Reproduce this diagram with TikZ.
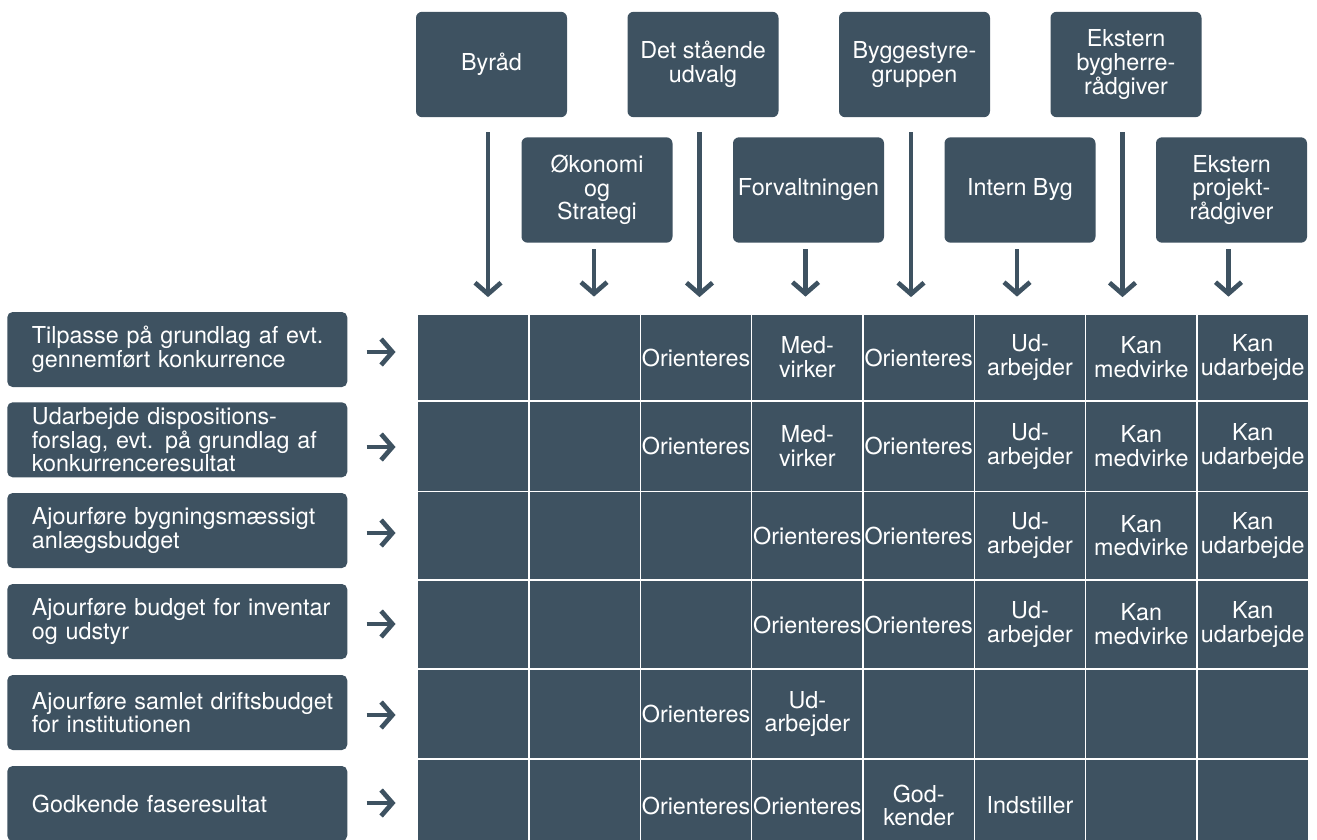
\documentclass[tikz,border=0pt]{standalone}
\usepackage{fontspec}
\setmainfont{TeX Gyre Heros}
\usetikzlibrary{arrows.meta}
\definecolor{slate}{RGB}{62,82,97}
\newcommand\boxfont{\fontsize{17.5}{17.8}\selectfont}
% one row of the responsibility grid: #1 row no., #2 top, #3 bottom (px), #4 cell texts
\newcommand\gridrow[4]{%
  \foreach \t [count=\c] in {#4} {
    \node[cell, minimum height={(#3-#2)*0.75pt}] (c#1-\c)
      at ({417.7+111.33*(\c-0.5)}, {(#2+#3)/2}) {\t};
  }%
}
\tikzset{
  topbox/.style={fill=slate, rounded corners=4.5pt, text=white, align=center,
    inner sep=0pt, minimum width=113.25pt, minimum height=79pt, font=\boxfont},
  taskbox/.style={fill=slate, rounded corners=4pt, text=white, align=left,
    inner xsep=18.5pt, inner ysep=0pt, text width=218pt, minimum height=56.25pt,
    anchor=west, font=\boxfont},
  cell/.style={fill=slate, draw=white, line width=1.1pt, text=white, align=center,
    inner sep=0pt, minimum width=83.5pt, font=\boxfont},
  flow/.style={draw=slate, line width=3.5pt,
    -{Straight Barb[length=8.5pt,width=19.5pt,line cap=butt,line join=miter]}},
}
\begin{document}
\begin{tikzpicture}[x=0.75pt, y=-0.75pt]
\useasboundingbox (0,0) rectangle (1317,839);
\begin{scope}
\clip (0,0) rectangle (1317,839);

% actors, upper row
\node[topbox] (byraad)  at (491.5,64.5) {Byråd};
\node[topbox] (udvalg)  at (703,64.5)   {Det stående\\udvalg};
\node[topbox] (bstyre)  at (914.5,64.5) {Byggestyre-\\gruppen};
\node[topbox] (ebyg)    at (1126,64.5)  {Ekstern\\bygherre-\\rådgiver};
% actors, lower row
\node[topbox] (oekon)   at (597,190)    {Økonomi\\og\\Strategi};
\node[topbox] (forv)    at (808.5,190)  {Forvaltningen};
\node[topbox] (intern)  at (1020,190)   {Intern Byg};
\node[topbox] (eproj)   at (1231.5,190) {Ekstern\\projekt-\\rådgiver};

% arrows from the actors down to the grid
\foreach \n in {byraad,udvalg,bstyre,ebyg}
  \draw[flow] ([shift={(-3.5,14.7)}]\n.south) -- ++(0,165);
\foreach \n in {oekon,forv,intern,eproj}
  \draw[flow] ([shift={(-3,6.3)}]\n.south) -- ++(0,47.4);

% tasks
\node[taskbox] (t1) at (7,349.5) {\mbox{Tilpasse på grundlag af evt.}\\\mbox{gennemført konkurrence}};
\node[taskbox] (t2) at (7,439.8) {\mbox{Udarbejde dispositions-}\\\mbox{forslag, evt. på grundlag af}\\\mbox{konkurrenceresultat}};
\node[taskbox] (t3) at (7,530.5) {\mbox{Ajourføre bygningsmæssigt}\\\mbox{anlægsbudget}};
\node[taskbox] (t4) at (7,621.5) {\mbox{Ajourføre budget for inventar}\\\mbox{og udstyr}};
\node[taskbox] (t5) at (7,712.5) {\mbox{Ajourføre samlet driftsbudget}\\\mbox{for institutionen}};
\node[taskbox] (t6) at (7,803.5) {\mbox{Godkende faseresultat}};

% arrows from the tasks towards the grid
\draw[flow] ([shift={(19,2.5)}]t1.east)  -- ++(29,0);
\draw[flow] ([shift={(19,7.2)}]t2.east)  -- ++(29,0);
\draw[flow] ([shift={(19,2.5)}]t3.east)  -- ++(29,0);
\draw[flow] ([shift={(19,2.5)}]t4.east)  -- ++(29,0);
\draw[flow] ([shift={(19,2.5)}]t5.east)  -- ++(29,0);
\draw[flow] ([shift={(19,-0.5)}]t6.east) -- ++(29,0);

% responsibility grid
\gridrow{1}{314}{401}{{},{},Orienteres,{Med-\\virker},Orienteres,{Ud-\\arbejder},{Kan\\medvirke},{Kan\\udarbejde}}
\gridrow{2}{401}{491.5}{{},{},Orienteres,{Med-\\virker},Orienteres,{Ud-\\arbejder},{Kan\\medvirke},{Kan\\udarbejde}}
\gridrow{3}{491.5}{580}{{},{},{},Orienteres,Orienteres,{Ud-\\arbejder},{Kan\\medvirke},{Kan\\udarbejde}}
\gridrow{4}{580}{669}{{},{},{},Orienteres,Orienteres,{Ud-\\arbejder},{Kan\\medvirke},{Kan\\udarbejde}}
\gridrow{5}{669}{759}{{},{},Orienteres,{Ud-\\arbejder},{},{},{},{}}
\gridrow{6}{759}{852}{{},{},Orienteres,Orienteres,{God-\\kender},Indstiller,{},{}}
\end{scope}
\end{tikzpicture}
\end{document}
